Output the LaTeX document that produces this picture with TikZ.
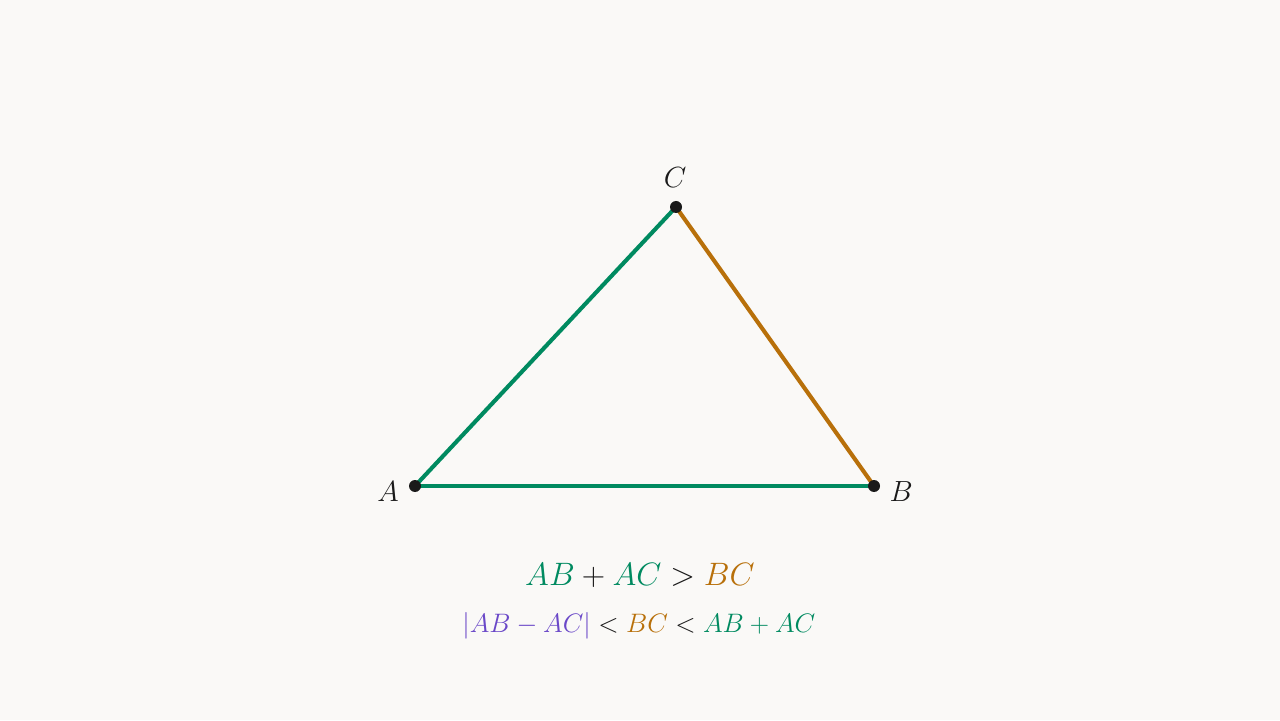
\documentclass[tikz,border=0pt]{standalone}
\usepackage{fix-cm}
\usepackage{xcolor}
\definecolor{bg}{HTML}{FAF9F7}
\definecolor{grn}{HTML}{008A60}
\definecolor{org}{HTML}{B8700A}
\definecolor{pur}{HTML}{6A48C8}
\definecolor{ink}{HTML}{1A1A1A}
\begin{document}
\begin{tikzpicture}[x=1cm,y=1cm,
  side/.style={line width=2.9pt},
  vdot/.style={circle,fill=ink,inner sep=0pt,minimum size=0.3cm},
  vlabel/.style={text=ink,font=\fontsize{20.74}{25}\selectfont}]
\fill[bg] (0,0) rectangle (32,18);
\useasboundingbox (0,0) rectangle (32,18);
\coordinate (A) at (10.375,5.85);
\coordinate (B) at (21.85,5.85);
\coordinate (C) at (16.9,12.825);
\draw[side,grn] (A) -- (B);
\draw[side,grn] (A) -- (C);
\draw[side,org] (C) -- (B);
\node[vdot] (dA) at (A) {};
\node[vdot] (dB) at (B) {};
\node[vdot] (dC) at (C) {};
\node[vlabel] (lA) at (9.7,5.72) {$A$};
\node[vlabel] (lB) at (22.53,5.72) {$B$};
\node[vlabel] (lC) at (16.88,13.57) {$C$};
\node[font=\fontsize{23.05}{28}\selectfont,text=ink] (f1) at (16,3.62)
  {$\color{grn}AB\color{ink}+\color{grn}AC\color{ink}>\color{org}BC$};
\node[font=\fontsize{19.0}{23}\selectfont,text=ink] (f2) at (15.97,2.35)
  {$\color{pur}|AB-AC|\color{ink}<\color{org}BC\color{ink}<\color{grn}AB+AC$};
\end{tikzpicture}
\end{document}
